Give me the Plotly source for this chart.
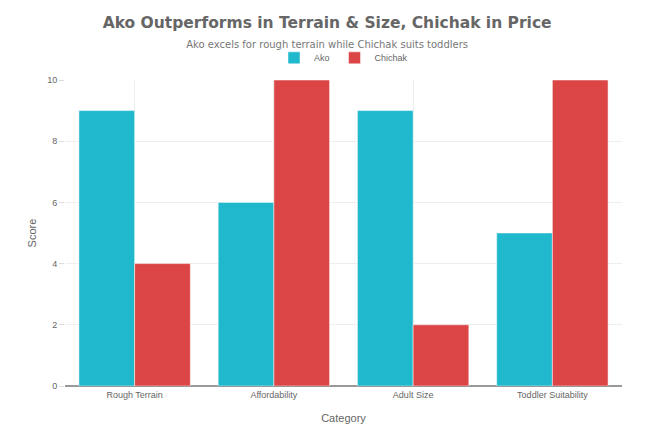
import plotly.graph_objects as go

categories = ["Rough Terrain", "Affordability", "Adult Size", "Toddler Suitability"]
ako_scores = [9, 6, 9, 5]
chichak_scores = [4, 10, 2, 10]

fig = go.Figure()
fig.add_trace(go.Bar(name="Ako", x=categories, y=ako_scores, marker=dict(color="#1FB8CD", line=dict(color="white", width=0.5))))
fig.add_trace(go.Bar(name="Chichak", x=categories, y=chichak_scores, marker=dict(color="#DB4545", line=dict(color="white", width=0.5))))

fig.update_layout(
    width=654, height=436,
    template="plotly_white",
    font=dict(family="Liberation Sans", color="#666666", size=10),
    title=dict(
        text="<b>Ako Outperforms in Terrain & Size, Chichak in Price</b><br><span style='font-size:10px;font-weight:normal;color:#777'>Ako excels for rough terrain while Chichak suits toddlers</span>",
        x=0.488, xanchor="center", y=0.954, yanchor="top",
        font=dict(family="DejaVu Sans", size=15.5, color="#666666"),
    ),
    legend=dict(orientation="h", x=0.5, xanchor="center", y=1.025, yanchor="bottom", font=dict(size=9)),
    margin=dict(l=57, r=40, t=72, b=58),
    bargap=0.2,
    barmode="group",
    xaxis=dict(title=dict(text="Category", font=dict(size=11)), showline=True, linecolor="#999", showgrid=True, gridcolor="#eeeeee", ticks="", tickfont=dict(size=9)),
    yaxis=dict(title=dict(text="Score", font=dict(size=11), standoff=8), range=[0, 10], dtick=2, showgrid=True, gridcolor="#eeeeee", ticks="outside", tickcolor="#ddd", ticklen=5, zeroline=True, zerolinecolor="#999", tickfont=dict(size=9)),
    plot_bgcolor="white",
)

fig.write_html("out.html")
